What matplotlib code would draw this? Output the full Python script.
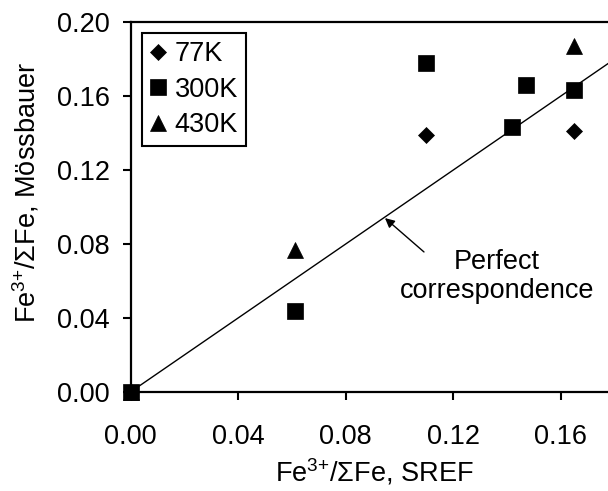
import numpy as np
import matplotlib
matplotlib.use("Agg")
import matplotlib.pyplot as plt

# values
x_77 = [0.0, 0.110, 0.165]
y_77 = [0.0, 0.139, 0.141]

x_300 = [0.0, 0.061, 0.110, 0.142, 0.147, 0.165]
y_300 = [0.0, 0.044, 0.178, 0.143, 0.166, 0.163]

x_430 = [0.0, 0.061, 0.165]
y_430 = [0.0, 0.077, 0.187]

ticks = [0.00, 0.04, 0.08, 0.12, 0.16, 0.20]
line_x = [0.0, 0.20]

plt.rcParams['font.family'] = ['Liberation Sans', 'DejaVu Sans']
plt.rcParams['mathtext.fontset'] = 'custom'
plt.rcParams['mathtext.rm'] = 'Liberation Sans'
plt.rcParams['mathtext.it'] = 'Liberation Sans'

fs = 19.5

fig = plt.figure(figsize=(6.08, 4.91), dpi=100)
ax = fig.add_axes([130.5 / 608, 99 / 491, 538 / 608, 370 / 491])

ax.plot(line_x, line_x, color='black', lw=1.0, zorder=1)
ax.plot(x_77, y_77, 'D', color='black', ms=8.5, mew=0.5, ls='none', label='77K', clip_on=False, zorder=3)
ax.plot(x_300, y_300, 's', color='black', ms=12, mew=0.5, ls='none', label='300K', clip_on=False, zorder=3)
ax.plot(x_430, y_430, '^', color='black', ms=12, mew=0.5, ls='none', label='430K', clip_on=False, zorder=3)

ax.set_xlim(0, 0.20)
ax.set_ylim(0, 0.20)
ax.set_xticks(ticks)
ax.set_yticks(ticks)
ax.set_xticklabels(['%.2f' % t for t in ticks])
ax.set_yticklabels(['%.2f' % t for t in ticks])
ax.tick_params(direction='out', length=6, width=1.5, labelsize=fs)
ax.tick_params(axis='x', pad=17)
ax.tick_params(axis='y', pad=9)
for s in ax.spines.values():
    s.set_linewidth(1.6)

ax.set_xlabel(r'Fe$^{\text{3+}}$/$\Sigma$Fe, SREF', fontsize=fs)
ax.set_ylabel(r'Fe$^{\text{3+}}$/$\Sigma$Fe, Mössbauer', fontsize=fs)
ax.xaxis.set_label_coords(0.454, -0.175)
ax.yaxis.set_label_coords(-0.165, 0.54)

# arrow pointing at the 1:1 line, text placed below-right of it
ax.annotate('', xy=(0.0946, 0.094), xytext=(0.1091, 0.0757),
            arrowprops=dict(arrowstyle='-|>', color='black', lw=1.0,
                            shrinkA=0, shrinkB=0, mutation_scale=14),
            zorder=4)
ax.text(0.1363, 0.0627, 'Perfect\ncorrespondence', fontsize=fs,
        ha='center', va='center', linespacing=1.15)

leg = ax.legend(loc='upper left', bbox_to_anchor=(0.0214, 0.970), borderaxespad=0,
                fontsize=fs, frameon=True, fancybox=False, handlelength=0.6,
                handletextpad=0.3, labelspacing=0.35, borderpad=0.3,
                edgecolor='black', framealpha=1)
leg.get_frame().set_linewidth(1.5)

fig.savefig('out.png', dpi=100)
